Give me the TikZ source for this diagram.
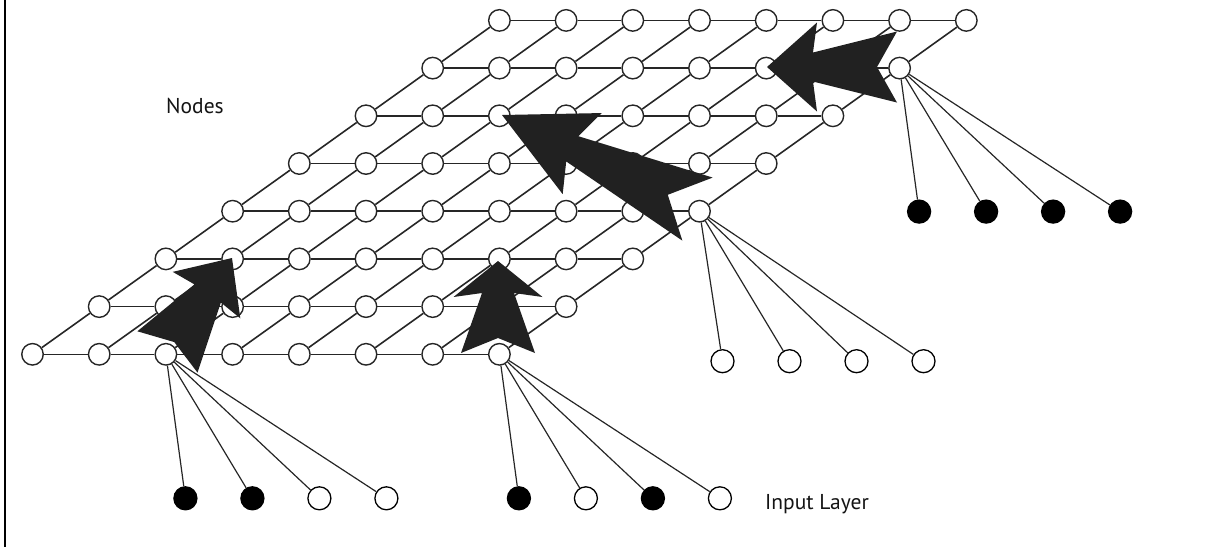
\documentclass[tikz,border=0pt]{standalone}
\usepackage{fontspec}
\setmainfont{PT Sans}
\begin{document}
\begin{tikzpicture}[x=1pt,y=-1pt,
  gridline/.style={line width=1.6pt, draw=black!85},
  inline/.style={line width=1.2pt, draw=black!85},
  unit/.style={circle, draw=black!85, line width=1.4pt, fill=white, minimum size=21.5pt, inner sep=0pt},
  inopen/.style={circle, draw=black, line width=1.3pt, fill=white, minimum size=23pt, inner sep=0pt},
  infill/.style={circle, draw=black, line width=1.3pt, fill=black, minimum size=23pt, inner sep=0pt},
  bigarrow/.style={fill=black!87},
  lbl/.style={font=\fontsize{21.5}{25}\selectfont, text=black!92, inner sep=0pt}
]
\useasboundingbox (0,0) rectangle (1209,547);
\draw[line width=2pt] (5,0) -- (5,547);

% grid of nodes
\foreach \r in {0,...,7} {
  \foreach \c in {0,...,7} {
    \node[unit] (n-\r-\c) at ({32.5+66.7*\c+66.7*\r},{354.3-47.7*\r}) {};
  }
}
% grid connections
\foreach \r in {0,...,7} {
  \foreach \c in {0,...,6} {
    \pgfmathtruncatemacro\d{\c+1}
    \draw[gridline] (n-\r-\c) -- (n-\r-\d);
    \draw[gridline] (n-\c-\r) -- (n-\d-\r);
  }
}

% input group A (from n-0-2)
\node[infill] (a1) at ([shift={(19.5,144)}]n-0-2) {};
\node[infill] (a2) at ([shift={(86.5,144)}]n-0-2) {};
\node[inopen] (a3) at ([shift={(153.5,144)}]n-0-2) {};
\node[inopen] (a4) at ([shift={(220.5,144)}]n-0-2) {};
% input group B (from n-0-7)
\node[infill] (b1) at ([shift={(19.5,144)}]n-0-7) {};
\node[inopen] (b2) at ([shift={(86.5,144)}]n-0-7) {};
\node[infill] (b3) at ([shift={(153.5,144)}]n-0-7) {};
\node[inopen] (b4) at ([shift={(220.5,144)}]n-0-7) {};
% input group C (from n-3-7)
\node[inopen] (c1) at ([shift={(23,150)}]n-3-7) {};
\node[inopen] (c2) at ([shift={(90,150)}]n-3-7) {};
\node[inopen] (c3) at ([shift={(157,150)}]n-3-7) {};
\node[inopen] (c4) at ([shift={(224,150)}]n-3-7) {};
% input group D (from n-6-7)
\node[infill] (d1) at ([shift={(19.5,143.5)}]n-6-7) {};
\node[infill] (d2) at ([shift={(86.5,143.5)}]n-6-7) {};
\node[infill] (d3) at ([shift={(153.5,143.5)}]n-6-7) {};
\node[infill] (d4) at ([shift={(220.5,143.5)}]n-6-7) {};

\foreach \k in {1,...,4} {
  \draw[inline] (n-0-2) -- (a\k);
  \draw[inline] (n-0-7) -- (b\k);
  \draw[inline] (n-3-7) -- (c\k);
  \draw[inline] (n-6-7) -- (d\k);
}

% big arrows
\fill[bigarrow, shift={(232,258)}, rotate=55.5]
  (0,0) -- (-45,41) -- (-43,16) -- (-114,36.5) -- (-102,0) -- (-114,-36.5) -- (-43,-16) -- (-45,-41) -- cycle;
\fill[bigarrow, shift={(502,115)}, rotate=154.3]
  (0,0) -- (-89,45) -- (-78,14) -- (-217,35) -- (-184,0) -- (-217,-35) -- (-78,-14) -- (-89,-45) -- cycle;
\fill[bigarrow, shift={(767,67)}, rotate=180]
  (0,0) -- (-50,44.5) -- (-46,14.5) -- (-130,35.5) -- (-110,0) -- (-130,-35.5) -- (-46,-14.5) -- (-50,-44.5) -- cycle;
\fill[bigarrow, shift={(498,261)}, rotate=90]
  (0,0) -- (-36,44.5) -- (-32,16) -- (-92,37) -- (-77,0) -- (-92,-37) -- (-32,-16) -- (-36,-44.5) -- cycle;

% labels
\node[lbl, anchor=base west] (nodestext) at (166,113) {Nodes};
\node[lbl, anchor=base west] (inputtext) at (765,509) {Input Layer};
\end{tikzpicture}
\end{document}
